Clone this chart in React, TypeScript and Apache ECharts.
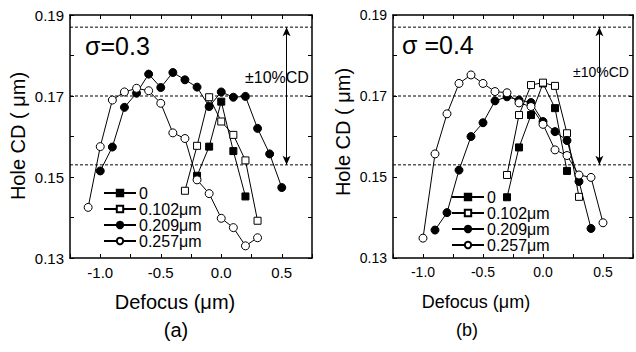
import React, { useEffect, useRef } from "react";
import * as echarts from "echarts";

// ---------- data ----------
const seriesNames = ["0", "0.102μm", "0.209μm", "0.257μm"];

// Panel (a): sigma = 0.3
const a0X = [-0.2, -0.1, 0.0, 0.1, 0.2];
const a0Y = [0.1503, 0.1575, 0.1686, 0.1564, 0.1452];
const a102X = [-0.3, -0.2, -0.1, 0.0, 0.1, 0.2, 0.3];
const a102Y = [0.1466, 0.1577, 0.1697, 0.1637, 0.1604, 0.1541, 0.1392];
const a209X = [-1.0, -0.9, -0.8, -0.7, -0.6, -0.5, -0.4, -0.3, -0.2, -0.1, 0.0, 0.1, 0.2, 0.3, 0.4, 0.5];
const a209Y = [0.1515, 0.1574, 0.1672, 0.1707, 0.1754, 0.1721, 0.1758, 0.174, 0.1722, 0.1674, 0.171, 0.1697, 0.1699, 0.162, 0.1557, 0.1474];
const a257X = [-1.1, -1.0, -0.9, -0.8, -0.7, -0.6, -0.5, -0.4, -0.3, -0.2, -0.1, 0.0, 0.1, 0.2, 0.3];
const a257Y = [0.1425, 0.1575, 0.169, 0.171, 0.1719, 0.1713, 0.1682, 0.1609, 0.1595, 0.1493, 0.1459, 0.1398, 0.1375, 0.133, 0.135];

// Panel (b): sigma = 0.4
const b0X = [-0.3, -0.2, -0.1, 0.0, 0.1, 0.2];
const b0Y = [0.145, 0.1573, 0.1653, 0.1731, 0.167, 0.1515];
const b102X = [-0.3, -0.2, -0.1, 0.0, 0.1, 0.2, 0.3];
const b102Y = [0.1505, 0.1653, 0.1727, 0.1733, 0.1725, 0.1608, 0.1451];
const b209X = [-0.9, -0.8, -0.7, -0.6, -0.5, -0.4, -0.3, -0.2, -0.1, 0.0, 0.1, 0.2, 0.3, 0.4];
const b209Y = [0.1369, 0.1412, 0.1517, 0.16, 0.1634, 0.1688, 0.1698, 0.169, 0.1684, 0.1637, 0.1612, 0.159, 0.1489, 0.1373];
const b257X = [-1.0, -0.9, -0.8, -0.7, -0.6, -0.5, -0.4, -0.3, -0.2, -0.1, 0.0, 0.1, 0.2, 0.3, 0.4, 0.5];
const b257Y = [0.1349, 0.1557, 0.1656, 0.1731, 0.1752, 0.1731, 0.1711, 0.1708, 0.1683, 0.1674, 0.163, 0.1567, 0.1553, 0.1505, 0.1499, 0.1387];

// reference lines (CD target ±10%)
const refLines = [0.153, 0.17, 0.187];
const arrowRange = [0.187, 0.153];
const arrowXA = 0.54;
const arrowXB = 0.47;

const xTicks = { min: -1.25, max: 0.75, interval: 0.25 };
const yTicks = { min: 0.13, max: 0.19, interval: 0.01 };

const FONT = '"Liberation Sans", Arial, Helvetica, sans-serif';

const zip = (xs: number[], ys: number[]) => xs.map((x, i) => [x, ys[i]]);

export default function App() {
  const ref = useRef<HTMLDivElement>(null);
  useEffect(() => {
    if (!ref.current) return;
    const chart = echarts.init(ref.current, null, { renderer: "svg" });

    const grids = [
      { left: 70, top: 15, width: 242, height: 243 },
      { left: 393, top: 15, width: 242, height: 243 },
    ];

    const axisLine = { show: true, onZero: false, lineStyle: { color: "#000", width: 1.5 } };
    const axisTick = { show: true, inside: true, length: 4, lineStyle: { color: "#000", width: 1 } };

    const xAxes: any[] = [];
    const yAxes: any[] = [];
    [0, 1].forEach((g) => {
      const fs = g === 0 ? 15 : 14;
      xAxes.push({
        type: "value", gridIndex: g, position: "bottom", ...xTicks,
        axisLine, axisTick, splitLine: { show: false },
        axisLabel: {
          color: "#000", fontSize: fs, fontFamily: FONT, margin: 7,
          formatter: (v: number) => (Math.abs(v * 2 - Math.round(v * 2)) < 1e-6 ? (Math.abs(v) < 1e-9 ? "0.0" : v.toFixed(1)) : ""),
        },
      });
      xAxes.push({
        type: "value", gridIndex: g, position: "top", ...xTicks,
        axisLine, axisTick, splitLine: { show: false }, axisLabel: { show: false },
      });
      yAxes.push({
        type: "value", gridIndex: g, position: "left", ...yTicks,
        axisLine, axisTick, splitLine: { show: false },
        axisLabel: {
          color: "#000", fontSize: fs, fontFamily: FONT, margin: 6,
          formatter: (v: number) => (Math.round(v * 100) % 2 === 1 ? v.toFixed(2) : ""),
        },
      });
      yAxes.push({
        type: "value", gridIndex: g, position: "right", ...yTicks,
        axisLine, axisTick, splitLine: { show: false }, axisLabel: { show: false },
      });
    });

    const styles = [
      { symbol: "rect", fill: "#000", size: 7 },
      { symbol: "rect", fill: "#fff", size: 7 },
      { symbol: "circle", fill: "#000", size: 8 },
      { symbol: "circle", fill: "#fff", size: 8 },
    ];

    const panelData = [
      [zip(a0X, a0Y), zip(a102X, a102Y), zip(a209X, a209Y), zip(a257X, a257Y)],
      [zip(b0X, b0Y), zip(b102X, b102Y), zip(b209X, b209Y), zip(b257X, b257Y)],
    ];
    const arrowX = [arrowXA, arrowXB];

    const series: any[] = [];
    panelData.forEach((pd, g) => {
      // dashed reference lines spanning the plot
      refLines.forEach((v) => {
        series.push({
          type: "line",
          name: "ref",
          xAxisIndex: g * 2,
          yAxisIndex: g * 2,
          data: [[xTicks.min, v], [xTicks.max, v]],
          symbol: "none",
          silent: true,
          lineStyle: { color: "#000", width: 1, type: [3, 2] },
          z: 1,
        });
      });
      pd.forEach((data, k) => {
        const s: any = {
          type: "line",
          name: seriesNames[k],
          xAxisIndex: g * 2,
          yAxisIndex: g * 2,
          data,
          symbol: styles[k].symbol,
          symbolSize: styles[k].size,
          showSymbol: true,
          lineStyle: { color: "#000", width: 1 },
          itemStyle: { color: styles[k].fill, borderColor: "#000", borderWidth: 1 },
          z: 3 + k,
        };
        if (k === 1) {
          s.markLine = {
            silent: true, symbol: ["arrow", "arrow"], symbolSize: [6, 9], animation: false,
            label: { show: false },
            lineStyle: { color: "#000", width: 1, type: "solid" },
            data: [[{ coord: [arrowX[g], arrowRange[0]] }, { coord: [arrowX[g], arrowRange[1]] }]],
          };
        }
        series.push(s);
      });
    });

    const legendCommon = {
      orient: "vertical",
      itemWidth: 32,
      itemHeight: 8,
      itemGap: 0,
      data: seriesNames,
      textStyle: { color: "#000", fontSize: 16, fontFamily: FONT, lineHeight: 15, padding: [0, 0, 0, -2] },
      padding: 0,
      selectedMode: false,
    };

    const txt = (text: string, x: number, y: number, size: number, opts: any = {}) => ({
      type: "text", x, y, rotation: opts.rotation || 0,
      style: {
        text, fontSize: size, fontFamily: FONT, fill: "#000",
        textAlign: opts.align || "center", textVerticalAlign: "middle",
      },
    });

    chart.setOption({
      animation: false,
      backgroundColor: "#fff",
      grid: grids,
      xAxis: xAxes,
      yAxis: yAxes,
      legend: [
        { ...legendCommon, left: 103, top: 185 },
        { ...legendCommon, left: 451, top: 189 },
      ],
      series,
      graphic: [
        txt("Hole CD ( μm)", 18, 136, 20, { rotation: Math.PI / 2 }),
        txt("Hole CD ( μm)", 343, 132, 20, { rotation: Math.PI / 2 }),
        txt("Defocus (μm)", 175, 302, 20),
        txt("Defocus (μm)", 476, 302, 18),
        txt("(a)", 176, 330, 20),
        txt("(b)", 467, 330, 18),
        txt("σ=0.3", 85, 46, 25, { align: "left" }),
        txt("σ =0.4", 402, 45, 25, { align: "left" }),
        txt("±10%CD", 245, 77, 16, { align: "left" }),
        txt("±10%CD", 573, 72, 14, { align: "left" }),
      ],
    });
    return () => chart.dispose();
  }, []);
  return (
    <div
      ref={ref}
      style={{ position: "fixed", left: 0, top: 0, width: 636, height: 352, background: "#fff" }}
    />
  );
}
